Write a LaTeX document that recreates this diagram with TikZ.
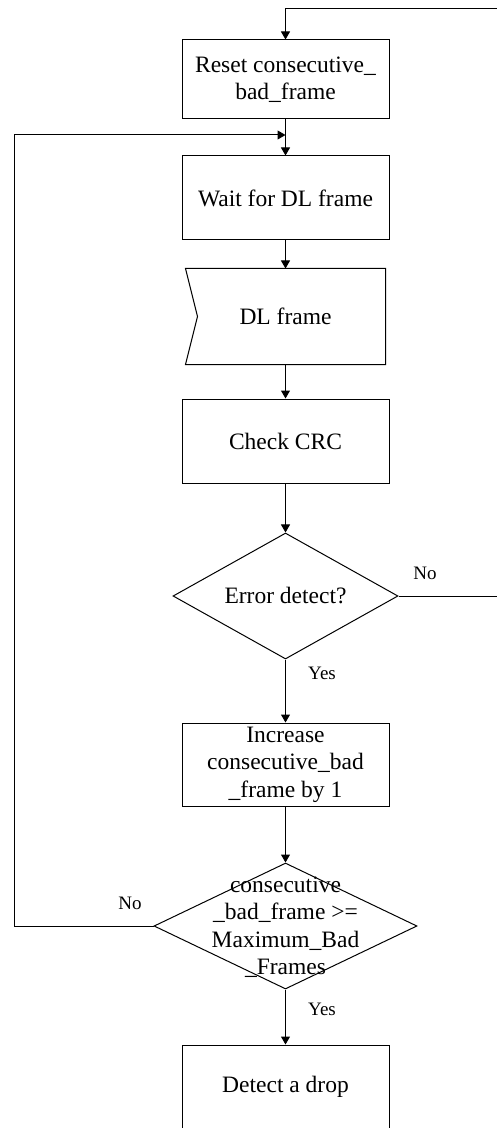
\documentclass[tikz,border=0pt]{standalone}
\usepackage{fontspec}
\setmainfont{Liberation Serif}
\usetikzlibrary{shapes.geometric,arrows.meta}
\begin{document}
\begin{tikzpicture}[x=0.5pt,y=-0.5pt,line width=0.5pt,
    stepbox/.style={shape=rectangle,draw,minimum width=103.5pt,inner sep=0pt,align=center,font=\fontsize{11.75}{13.75}\selectfont},
    decision/.style={shape=diamond,draw,inner sep=0pt,minimum height=63pt,font=\fontsize{11.75}{13.75}\selectfont},
    lbl/.style={inner sep=0pt,font=\fontsize{9.5}{11}\selectfont},
    arr/.style={-{Triangle[length=4pt,width=4.5pt]}}]
    \useasboundingbox (0,0) rectangle (497,1128);
    \node[stepbox,minimum height=39.5pt] (rst) at (285.5,79.5) {Reset consecutive\_\\bad\_frame};
    \node[stepbox,minimum height=42pt]   (wait) at (285.5,198) {Wait for DL frame};
    \node[shape=rectangle,inner sep=0pt,minimum width=99.5pt,minimum height=47.5pt,font=\fontsize{11.75}{13.75}\selectfont] (dlf) at (285.5,316.5) {DL frame};
    \draw (dlf.north west) -- (dlf.north east) -- (dlf.south east) -- (dlf.south west) -- ([xshift=6pt]dlf.west) -- cycle;
    \node[stepbox,minimum height=42pt]   (crc) at (285.5,441) {Check CRC};
    \node[decision,shape aspect=1.786,minimum width=112.5pt] (err) at (285.5,596) {Error detect?};
    \node[stepbox,minimum height=41.5pt] (inc) at (285.5,764.5) {Increase\\consecutive\_bad\\\_frame by 1};
    \node[decision,shape aspect=2.087,minimum width=131.5pt] (max) at (285.5,926) {\smash{\raisebox{-4pt}{\begin{tabular}{@{}c@{}}consecutive\\\_bad\_frame >=\\Maximum\_Bad\\\_Frames\end{tabular}}}};
    \node[stepbox,minimum height=42pt]   (drop) at (285.5,1087) {Detect a drop};
    \node[lbl] (noerr) at (425,573) {No};
    \node[lbl] (yeserr) at (322,673) {Yes};
    \node[lbl] (nomax) at (130,903) {No};
    \node[lbl] (yesmax) at (322,1009) {Yes};
    \coordinate (rt) at (505,9);
    \coordinate (lt) at (14,135);
    \coordinate (merge) at (285.5,135);
    \draw[arr] (rst) -- (wait);
    \draw[arr] (wait) -- (dlf);
    \draw[arr] (dlf) -- (crc);
    \draw[arr] (crc) -- (err);
    \draw[arr] (err) -- (inc);
    \draw[arr] (inc) -- (max);
    \draw[arr] (max) -- (drop);
    \draw[arr] (err.east) -| (rt) -| (rst.north);
    \draw[arr] (max.west) -| (lt) -- (merge);
\end{tikzpicture}
\end{document}
